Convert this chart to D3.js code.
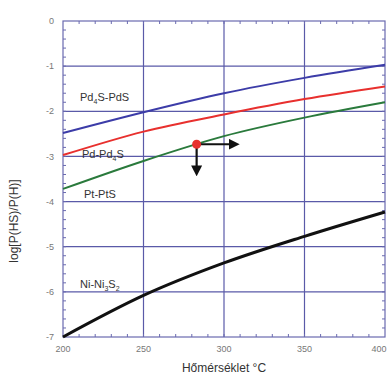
<!DOCTYPE html>
<html>
<head>
<meta charset="utf-8">
<script src="https://cdn.jsdelivr.net/npm/d3@7"></script>
<style>
  body { margin: 0; background: #fff; }
  svg { display: block; font-family: "Liberation Sans", Arial, sans-serif; }
</style>
</head>
<body>
<div id="chart"></div>
<script>
// 数据
const temps = [200, 250, 300, 350, 400];
const pd4sPds = [-2.48, -2.02, -1.6, -1.26, -0.97];
const pdPd4s = [-2.97, -2.45, -2.07, -1.73, -1.45];
const ptPts = [-3.72, -3.1, -2.55, -2.14, -1.8];
const niNi3s2 = [-7.0, -6.08, -5.36, -4.77, -4.23];
const xTicks = [200, 250, 300, 350, 400];
const yTicks = [0, -1, -2, -3, -4, -5, -6, -7];
const marker = { t: 283, v: -2.73, arrowT: 308, arrowV: -3.38 };

const series = [
  { name: 'Pd4S-PdS', values: pd4sPds, color: '#3c3ca8', label: ['Pd', '4', 'S-PdS'], lx: 80, ly: 101 },
  { name: 'Pd-Pd4S', values: pdPd4s, color: '#e8302e', label: ['Pd-Pd', '4', 'S'], lx: 82, ly: 158 },
  { name: 'Pt-PtS', values: ptPts, color: '#2a7a3c', label: ['Pt-PtS'], lx: 84, ly: 198 },
  { name: 'Ni-Ni3S2', values: niNi3s2, color: '#111', label: ['Ni-Ni', '3', 'S', '2'], lx: 80, ly: 288 }
];

const width = 388, height = 378;
const margin = { top: 21, right: 3, bottom: 41, left: 63 };

const svg = d3.select('#chart').append('svg')
  .attr('width', width)
  .attr('height', height);

// 比例尺
const x = d3.scaleLinear().domain([200, 400]).range([margin.left, width - margin.right]);
const y = d3.scaleLinear().domain([0, -7]).range([margin.top, height - margin.bottom]);

const gridColor = '#5a5aa8';

// 网格线
svg.append('g')
  .selectAll('line')
  .data(xTicks.slice(1, -1))
  .join('line')
  .attr('x1', d => x(d)).attr('x2', d => x(d))
  .attr('y1', y(0)).attr('y2', y(-7))
  .attr('stroke', gridColor).attr('stroke-width', 1.2);

svg.append('g')
  .selectAll('line')
  .data(yTicks.slice(1, -1))
  .join('line')
  .attr('x1', x(200)).attr('x2', x(400))
  .attr('y1', d => y(d)).attr('y2', d => y(d))
  .attr('stroke', gridColor).attr('stroke-width', 1.2);

// 小刻度（向内）
const minorX = d3.range(210, 400, 10);
const minorY = d3.range(-0.2, -7, -0.2);
const ticks = svg.append('g').attr('stroke', '#6a6ab0').attr('stroke-width', 1);
ticks.selectAll('.bx').data(minorX).join('line')
  .attr('x1', d => x(d)).attr('x2', d => x(d))
  .attr('y1', y(-7)).attr('y2', y(-7) - 3);
ticks.selectAll('.tx').data(minorX).join('line')
  .attr('x1', d => x(d)).attr('x2', d => x(d))
  .attr('y1', y(0)).attr('y2', y(0) + 3);
ticks.selectAll('.ly').data(minorY).join('line')
  .attr('x1', x(200)).attr('x2', x(200) + 3)
  .attr('y1', d => y(d)).attr('y2', d => y(d));
ticks.selectAll('.ry').data(minorY).join('line')
  .attr('x1', x(400)).attr('x2', x(400) - 3)
  .attr('y1', d => y(d)).attr('y2', d => y(d));

// 边框
svg.append('rect')
  .attr('x', x(200)).attr('y', y(0))
  .attr('width', x(400) - x(200)).attr('height', y(-7) - y(0))
  .attr('fill', 'none').attr('stroke', '#6a6ab0').attr('stroke-width', 1.2);

// 刻度标签
svg.append('g')
  .selectAll('text')
  .data(xTicks)
  .join('text')
  .attr('x', d => Math.min(x(d), width - 9))
  .attr('y', y(-7) + 15)
  .attr('text-anchor', 'middle')
  .style('font-size', '9px')
  .style('fill', '#777')
  .text(d => d);

svg.append('g')
  .selectAll('text')
  .data(yTicks)
  .join('text')
  .attr('x', x(200) - 9)
  .attr('y', d => y(d))
  .attr('dy', '0.35em')
  .attr('text-anchor', 'end')
  .style('font-size', '9px')
  .style('fill', '#777')
  .text(d => d);

// 曲线
const line = d3.line()
  .x((d, i) => x(temps[i]))
  .y(d => y(d))
  .curve(d3.curveMonotoneX);

svg.append('g')
  .selectAll('path')
  .data(series)
  .join('path')
  .attr('d', d => line(d.values))
  .attr('fill', 'none')
  .attr('stroke', d => d.color)
  .attr('stroke-width', d => d.color === '#111' ? 3 : 2);

// 曲线标签（带下标）
series.forEach(s => {
  const t = svg.append('text')
    .attr('x', s.lx).attr('y', s.ly)
    .style('font-size', '11px')
    .style('fill', '#333');
  s.label.forEach((part, i) => {
    const sub = i % 2 === 1;
    t.append('tspan')
      .attr('dy', sub ? 3 : (i > 0 ? -3 : 0))
      .style('font-size', sub ? '7px' : '11px')
      .text(part);
  });
});

// 箭头
const defs = svg.append('defs');
defs.append('marker')
  .attr('id', 'head')
  .attr('viewBox', '0 0 10 10')
  .attr('refX', 2).attr('refY', 5)
  .attr('markerWidth', 5).attr('markerHeight', 5)
  .attr('orient', 'auto')
  .append('path')
  .attr('d', 'M0,0 L10,5 L0,10 Z')
  .attr('fill', '#111');

svg.append('line')
  .attr('x1', x(marker.t)).attr('y1', y(marker.v))
  .attr('x2', x(marker.arrowT) - 6).attr('y2', y(marker.v))
  .attr('stroke', '#111').attr('stroke-width', 2.2)
  .attr('marker-end', 'url(#head)');

svg.append('line')
  .attr('x1', x(marker.t)).attr('y1', y(marker.v))
  .attr('x2', x(marker.t)).attr('y2', y(marker.arrowV) - 6)
  .attr('stroke', '#111').attr('stroke-width', 2.2)
  .attr('marker-end', 'url(#head)');

svg.append('circle')
  .attr('cx', x(marker.t)).attr('cy', y(marker.v))
  .attr('r', 4.5)
  .attr('fill', '#e8302e');

// 坐标轴标题
svg.append('text')
  .attr('x', (x(200) + x(400)) / 2)
  .attr('y', 372)
  .attr('text-anchor', 'middle')
  .style('font-size', '12px')
  .style('fill', '#333')
  .text('Hőmérséklet °C');

svg.append('text')
  .attr('transform', `translate(18, ${(y(0) + y(-7)) / 2 + 42}) rotate(-90)`)
  .attr('text-anchor', 'middle')
  .style('font-size', '12px')
  .style('fill', '#333')
  .text('log[P(HS)/P(H)]');
</script>
</body>
</html>
